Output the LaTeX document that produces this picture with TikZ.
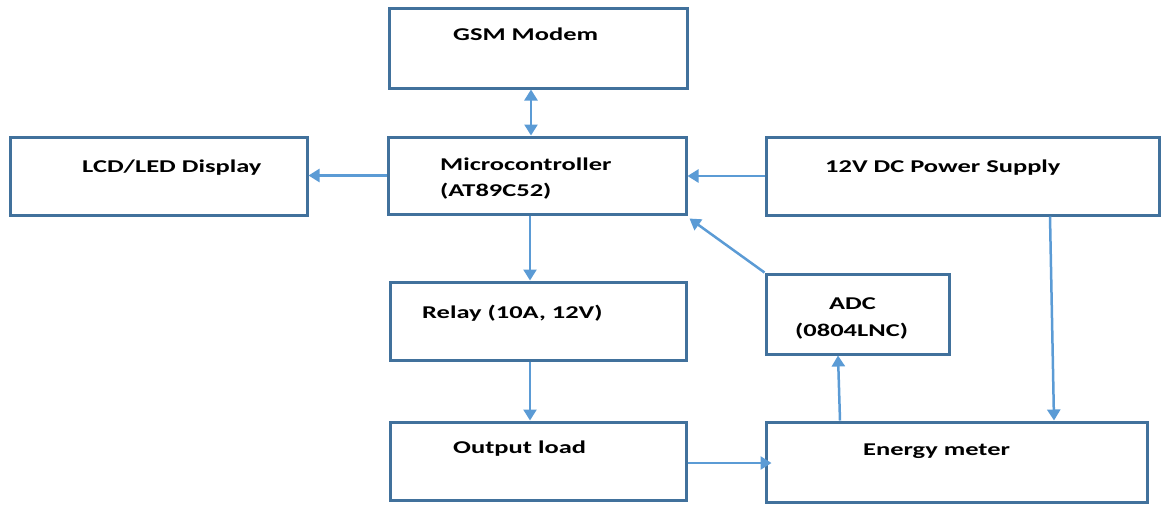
\documentclass[tikz,border=0pt]{standalone}
\usepackage{fontspec}
\setmainfont{Carlito}[FakeStretch=1.47]
\usetikzlibrary{arrows.meta}
\definecolor{boxblue}{HTML}{41719C}
\definecolor{arrblue}{HTML}{5B9BD5}
\begin{document}
\begin{tikzpicture}[x=1pt,y=-1pt,
 blk/.style={draw=boxblue,line width=3pt,inner sep=0pt,fill=white},
 lbl/.style={anchor=base west,inner sep=0pt,font=\fontsize{18}{20}\selectfont\bfseries},
 conn/.style={draw=arrblue,line width=2.5pt,-{Triangle[length=11pt,width=13pt]}},
 dconn/.style={draw=arrblue,line width=2.5pt,{Triangle[length=11pt,width=13pt]}-{Triangle[length=11pt,width=13pt]}}]
\useasboundingbox (0,0) rectangle (1162,504);
% boxes
\node[blk,minimum width=298pt,minimum height=80pt] (gsm) at (538,48) {};
\node[blk,minimum width=297pt,minimum height=78pt] (lcd) at (158.5,176) {};
\node[blk,minimum width=298pt,minimum height=77pt] (mcu) at (537,175.5) {};
\node[blk,minimum width=393pt,minimum height=78pt] (psu) at (962.5,176) {};
\node[blk,minimum width=296pt,minimum height=78pt] (relay) at (538,321) {};
\node[blk,minimum width=183pt,minimum height=80pt] (adc) at (857.5,314) {};
\node[blk,minimum width=296pt,minimum height=78pt] (load) at (538,461) {};
\node[blk,minimum width=381pt,minimum height=80pt] (meter) at (956.5,462) {};
% labels
\node[lbl] (tgsm) at (453,40) {GSM Modem};
\node[lbl] (tlcd) at (82,172) {LCD/LED Display};
\node[lbl] (tmcu1) at (440,170) {Microcontroller};
\node[lbl] (tmcu2) at (440,196) {(AT89C52)};
\node[lbl] (tpsu) at (825,172) {12V DC Power Supply};
\node[lbl] (trelay) at (422,318) {Relay (10A, 12V)};
\node[lbl] (tadc1) at (829,309) {ADC};
\node[lbl] (tadc2) at (795,336) {(0804LNC)};
\node[lbl] (tload) at (453,453) {Output load};
\node[lbl] (tmeter) at (863,455) {Energy meter};
% connectors
\draw[dconn] ([xshift=-7pt]gsm.south) -- ([xshift=-6pt]mcu.north);
\draw[conn] (mcu.west) -- (mcu.west -| lcd.east);
\draw[conn] (psu.west) -- (psu.west -| mcu.east);
\draw[conn] ([xshift=-7pt]mcu.south) -- ([xshift=-8pt]relay.north);
\draw[conn] (adc.north west) -- ([shift={(2pt,-3pt)}]mcu.south east);
\draw[conn] ([xshift=87.5pt]psu.south) -- ([xshift=97.5pt]meter.north);
\draw[conn] ([xshift=-8pt]relay.south) -- ([xshift=-8pt]load.north);
\draw[conn] ([yshift=-2pt]load.east) -- ([xshift=7pt,yshift=-1pt]meter.west);
\draw[conn] ([xshift=-116.5pt]meter.north) -- ([xshift=-19.5pt]adc.south);
\end{tikzpicture}
\end{document}
